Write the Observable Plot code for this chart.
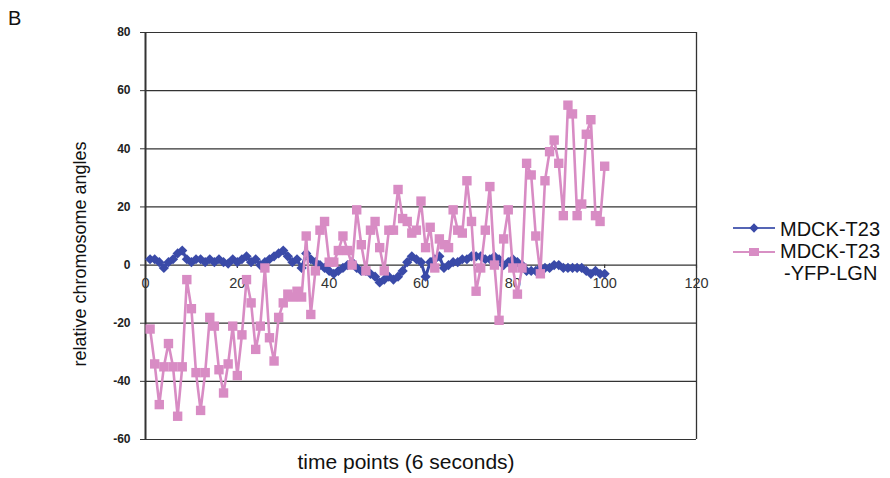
<!DOCTYPE html>
<html>
<head>
<meta charset="utf-8">
<script src="https://cdn.jsdelivr.net/npm/d3@7"></script>
<script src="https://cdn.jsdelivr.net/npm/@observablehq/plot@0.6"></script>
<style>
  body { margin: 0; background: #fff; font-family: "Liberation Sans", Arial, sans-serif; }
  #fig { position: relative; width: 890px; height: 478px; overflow: hidden; }
  #panel { position: absolute; left: 8px; top: 7px; font-size: 20px; color: #111; }
  .leg { position: absolute; font-size: 20px; line-height: 20px; color: #111; white-space: nowrap; }
  #legsym { position: absolute; left: 730px; top: 215px; }
</style>
</head>
<body>
<div id="fig"></div>
<script>
// ---- data ----
const timePoints = [1,2,3,4,5,6,7,8,9,10,11,12,13,14,15,16,17,18,19,20,
  21,22,23,24,25,26,27,28,29,30,31,32,33,34,35,36,37,38,39,40,
  41,42,43,44,45,46,47,48,49,50,51,52,53,54,55,56,57,58,59,60,
  61,62,63,64,65,66,67,68,69,70,71,72,73,74,75,76,77,78,79,80,
  81,82,83,84,85,86,87,88,89,90,91,92,93,94,95,96,97,98,99,100];

const seriesNames = ["MDCK-T23", "MDCK-T23-YFP-LGN"];

const t23Angles = [2,2,1,-1,1,2,4,5,2,1,2,2,1,2,1,2,1,0.5,2,1,
  2,3,1,2,0,1,2,3,4,5,3,1,2,-1,4,2,1,0,-1,-2,
  -3,-2,-1,0,1,-1,-2,-2,-3,-4,-6,-5,-4,-5,-4,-2,1,3,2,1,
  -4,1,2,3,-1,0,1,1,2,2,3,3,3,2,2,3,2,0,1,2,
  1,0,-2,-2,-2,-1,-1,-1,0,0,-1,-1,-1,-1,-1,-2,-3,-2,-3,-3];

const lgnAngles = [-22,-34,-48,-35,-27,-35,-52,-35,-5,-15,-37,-50,-37,-18,-21,-36,-44,-34,-21,-38,
  -24,-5,-13,-29,-21,-1,-25,-33,-18,-13,-10,-11,-9,-11,10,-17,-2,12,15,1,
  1,5,10,5,0,19,7,-2,12,15,6,-2,12,12,26,16,15,11,12,22,
  6,13,-1,9,7,6,19,12,11,29,15,-9,-1,12,27,0,-19,9,19,-1,
  -10,-1,35,31,10,-3,29,39,43,35,17,55,52,17,21,45,50,17,15,34];

const xTicks = [0,20,40,60,80,100,120];
const yTicks = [-60,-40,-20,0,20,40,60,80];

const panelLabel = "B";
const xLabel = "time points (6 seconds)";
const yLabel = "relative chromosome angles";

// ---- build rows ----
const blueRows = timePoints.map((t, i) => ({t, v: t23Angles[i]}));
const pinkRows = timePoints.map((t, i) => ({t, v: lgnAngles[i]}));

const BLUE = "#3a4aa8";
const PINK = "#d88cc4";
const GRID = "#333";

const chart = Plot.plot({
  width: 890,
  height: 478,
  marginLeft: 145,
  marginRight: 194,
  marginTop: 32,
  marginBottom: 39,
  style: {fontFamily: "'Liberation Sans', Arial, sans-serif", background: "white", overflow: "visible", color: "#222"},
  x: {domain: [0, 120], axis: null},
  y: {domain: [-60, 80]},
  marks: [
    Plot.ruleY(yTicks, {stroke: GRID, strokeWidth: 1.2}),
    Plot.ruleX([0], {stroke: GRID, strokeWidth: 2}),
    Plot.ruleX([120], {stroke: GRID, strokeWidth: 1.3}),
    Plot.axisY(yTicks, {tickSize: 5, tickPadding: 10, tickFormat: d => String(d),
      fontWeight: "bold", fontSize: 12, label: null, stroke: GRID}),
    Plot.ruleX(xTicks, {x: d => d, y1: 0, y2: -1.2, stroke: GRID, strokeWidth: 1.2}),
    Plot.text(xTicks, {x: d => d, y: 0, dy: 18, text: d => String(d), fontSize: 14.5, fill: "#333"}),
    Plot.line(blueRows, {x: "t", y: "v", stroke: BLUE, strokeWidth: 3}),
    Plot.dot(blueRows, {x: "t", y: "v", symbol: "diamond2", r: 4.6, fill: BLUE}),
    Plot.line(pinkRows, {x: "t", y: "v", stroke: PINK, strokeWidth: 2.6}),
    Plot.dot(pinkRows, {x: "t", y: "v", symbol: "square", r: 5.3, fill: PINK}),
    Plot.text([xLabel], {frameAnchor: "bottom", textAnchor: "middle", lineAnchor: "middle",
      dx: -15, dy: 23, fontSize: 21, fill: "#111", text: d => d}),
    Plot.text([yLabel], {frameAnchor: "left", textAnchor: "middle", lineAnchor: "middle",
      rotate: -90, dx: -65, dy: 18, fontSize: 18, fill: "#111", text: d => d})
  ]
});

const fig = document.getElementById("fig");
fig.appendChild(chart);

const panel = document.createElement("div");
panel.id = "panel";
panel.textContent = panelLabel;
fig.appendChild(panel);

// legend
const sym = d3.create("svg").attr("id", "legsym").attr("width", 50).attr("height", 50);
sym.append("line").attr("x1", 3).attr("x2", 45).attr("y1", 13).attr("y2", 13)
  .attr("stroke", "#5565b5").attr("stroke-width", 1.8);
sym.append("path").attr("d", d3.symbol(d3.symbolDiamond2, 55)()).attr("transform", "translate(24,13)").attr("fill", BLUE);
sym.append("line").attr("x1", 3).attr("x2", 45).attr("y1", 37).attr("y2", 37)
  .attr("stroke", "#d890c4").attr("stroke-width", 1.8);
sym.append("rect").attr("x", 19).attr("y", 33).attr("width", 10).attr("height", 8).attr("fill", PINK);
fig.appendChild(sym.node());

const legTexts = [
  {text: seriesNames[0], left: 780, top: 219},
  {text: seriesNames[1].slice(0, 8), left: 780, top: 241},
  {text: "-" + seriesNames[1].slice(9), left: 784, top: 263}
];
legTexts.forEach(d => {
  const s = document.createElement("div");
  s.className = "leg";
  s.style.left = d.left + "px";
  s.style.top = d.top + "px";
  s.textContent = d.text;
  fig.appendChild(s);
});
</script>
</body>
</html>
